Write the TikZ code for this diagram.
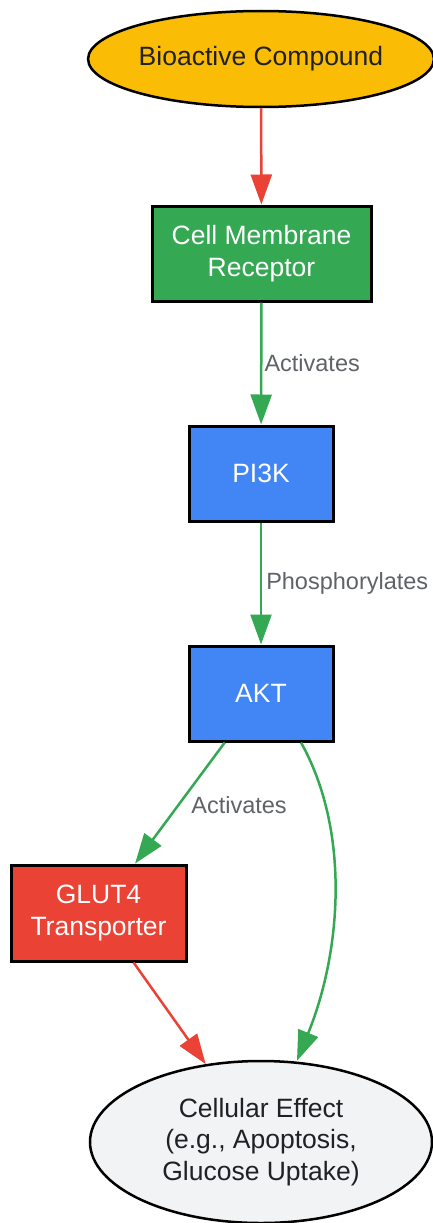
\documentclass[tikz,border=0pt]{standalone}
\usepackage{fontspec}
\setmainfont{Liberation Sans}
\usetikzlibrary{shapes.geometric,arrows.meta,calc}
\definecolor{cyellow}{HTML}{FBBC05}
\definecolor{cgreen}{HTML}{34A853}
\definecolor{cblue}{HTML}{4285F4}
\definecolor{cred}{HTML}{EA4335}
\definecolor{cgrey}{HTML}{F1F3F4}
\definecolor{ctext}{HTML}{202124}
\definecolor{clabel}{HTML}{5F6368}
\tikzset{
  x=1pt,y=-1pt,
  oval/.style={ellipse,draw=black,line width=2.5pt,inner sep=0pt,text=ctext,
    font=\fontsize{26.5}{31.5}\selectfont,align=center},
  box/.style={rectangle,draw=black,line width=3pt,inner sep=0pt,text=white,
    font=\fontsize{26.5}{32}\selectfont,align=center,minimum height=95pt},
  edge/.style={line width=2.5pt,-{Triangle[length=30pt,width=21pt]}},
  elabel/.style={text=clabel,font=\fontsize{23.5}{28}\selectfont,inner sep=0pt}
}
\begin{document}
\begin{tikzpicture}
\useasboundingbox (0,0) rectangle (433,1223);
\node[oval,fill=cyellow,minimum width=342pt,minimum height=96pt] (bc) at (261,59) {Bioactive Compound};
\node[box,fill=cgreen,minimum width=219pt] (cmr) at (261.5,253.5) {Cell Membrane\\Receptor};
\node[box,fill=cblue,minimum width=144pt] (pi3k) at (261,473.5) {PI3K};
\node[box,fill=cblue,minimum width=144pt] (akt) at (261,693.5) {AKT};
\node[box,fill=cred,minimum width=175pt,minimum height=96pt] (glut) at (98.5,913) {GLUT4\\Transporter};
\node[oval,fill=cgrey,minimum width=342pt,minimum height=162pt] (ce) at (261,1142) {Cellular Effect\\(e.g., Apoptosis,\\Glucose Uptake)};

\draw[edge,cred] (bc) -- (cmr);
\draw[edge,cgreen] (cmr) -- node[elabel,anchor=west,xshift=2pt] (l1) {Activates} (pi3k);
\draw[edge,cgreen] (pi3k) -- node[elabel,anchor=west,xshift=4pt] (l2) {Phosphorylates} (akt);
\draw[edge,cgreen] (akt) -- (glut);
\node[elabel] (l3) at (239,805) {Activates};
\draw[edge,cred] (glut) -- (ce);
\draw[edge,cgreen] ($(akt.south)+(40,0)$) .. controls (350,830) and (342,950) .. ($(ce.north)+(36,1)$);
\end{tikzpicture}
\end{document}
